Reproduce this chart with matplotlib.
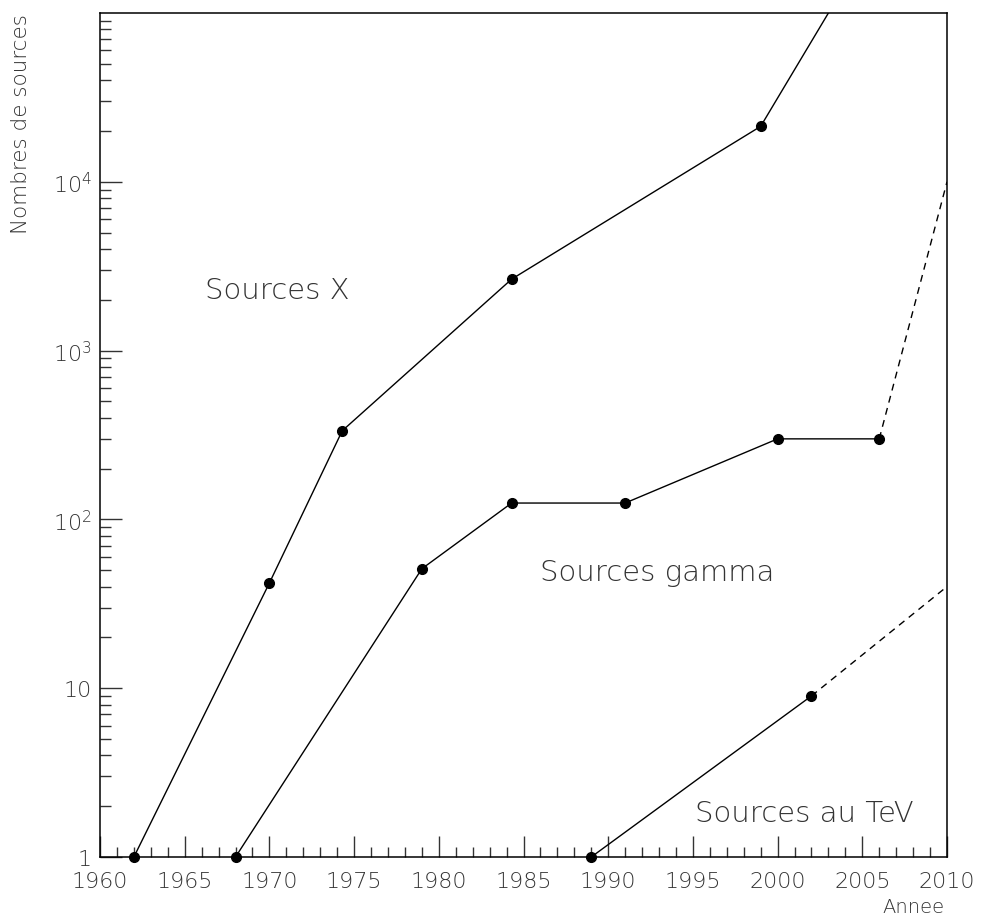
import numpy as np
import matplotlib.pyplot as plt
from matplotlib.ticker import FixedLocator, LogLocator, NullFormatter

# data
x_years = [1962, 1970, 1974.3, 1984.3, 1999, 2003]
x_counts = [1, 42, 335, 2650, 21300, 1e5]

gamma_years = [1968, 1979, 1984.3, 1991, 2000, 2006]
gamma_counts = [1, 51, 125, 125, 300, 300]
gamma_proj_years = [2006, 2010]
gamma_proj_counts = [300, 1e4]

tev_years = [1989, 2002]
tev_counts = [1, 9]
tev_proj_years = [2002, 2010]
tev_proj_counts = [9, 40]

ytick_vals = [1, 10, 100, 1000, 10000]
ytick_labels = ["1", "10", r"$10^{2}$", r"$10^{3}$", r"$10^{4}$"]

plt.rcParams['font.family'] = 'DejaVu Sans'
plt.rcParams['mathtext.default'] = 'regular'
txtcol = '#333333'

fig = plt.figure(figsize=(9.81, 9.2), dpi=100)
ax = fig.add_axes([100/981, 62/920, 847/981, 844/920])

ms = 7
# sources X (last point is off the top)
ax.plot(x_years, x_counts, color='k', lw=1.0)
ax.plot(x_years[:-1], x_counts[:-1], 'o', color='k', ms=ms, clip_on=False)
# gamma
ax.plot(gamma_years, gamma_counts, color='k', lw=1.0)
ax.plot(gamma_years, gamma_counts, 'o', color='k', ms=ms, clip_on=False)
ax.plot(gamma_proj_years, gamma_proj_counts, color='k', lw=1.0, ls=(0, (5, 4)))
# TeV
ax.plot(tev_years, tev_counts, color='k', lw=1.0)
ax.plot(tev_years, tev_counts, 'o', color='k', ms=ms, clip_on=False)
ax.plot(tev_proj_years, tev_proj_counts, color='k', lw=1.0, ls=(0, (5, 4)))

ax.set_yscale('log')
ax.set_xlim(1960, 2010)
ax.set_ylim(1, 1e5)

ax.set_xticks(np.arange(1960, 2011, 5))
ax.xaxis.set_minor_locator(FixedLocator(np.arange(1960, 2011, 1)))
ax.set_yticks(ytick_vals)
ax.set_yticklabels(ytick_labels)
ax.yaxis.set_minor_locator(LogLocator(base=10, subs=np.arange(2, 10)))
ax.yaxis.set_minor_formatter(NullFormatter())

ax.tick_params(axis='both', which='both', direction='in', top=False, right=False,
               labelsize=16, labelcolor=txtcol, color='#333333')
ax.tick_params(axis='x', which='major', length=15, width=1, pad=10)
ax.tick_params(axis='x', which='minor', length=7, width=1)
ax.tick_params(axis='y', which='major', length=16, width=1, pad=6)
ax.tick_params(axis='y', which='minor', length=8, width=1)
for lab in ax.get_xticklabels() + ax.get_yticklabels():
    lab.set_fontweight('light')

for s in ax.spines.values():
    s.set_linewidth(1.1)

lbl = dict(fontsize=21, color=txtcol, fontweight='light', va='baseline')
ax.text(1966.2, 2050, "Sources X", **lbl)
ax.text(1986.0, 44, "Sources gamma", **lbl)
ax.text(1995.1, 1.63, "Sources au TeV", **lbl)

fig.text(945/981, 1 - 908/920, "Annee", ha='right', va='center', fontsize=14,
         color=txtcol, fontweight='light')
fig.text(21/981, 1 - 14/920, "Nombres de sources", ha='center', va='top',
         rotation=90, fontsize=15.5, color=txtcol, fontweight='light')

fig.savefig('out.png', dpi=100)
